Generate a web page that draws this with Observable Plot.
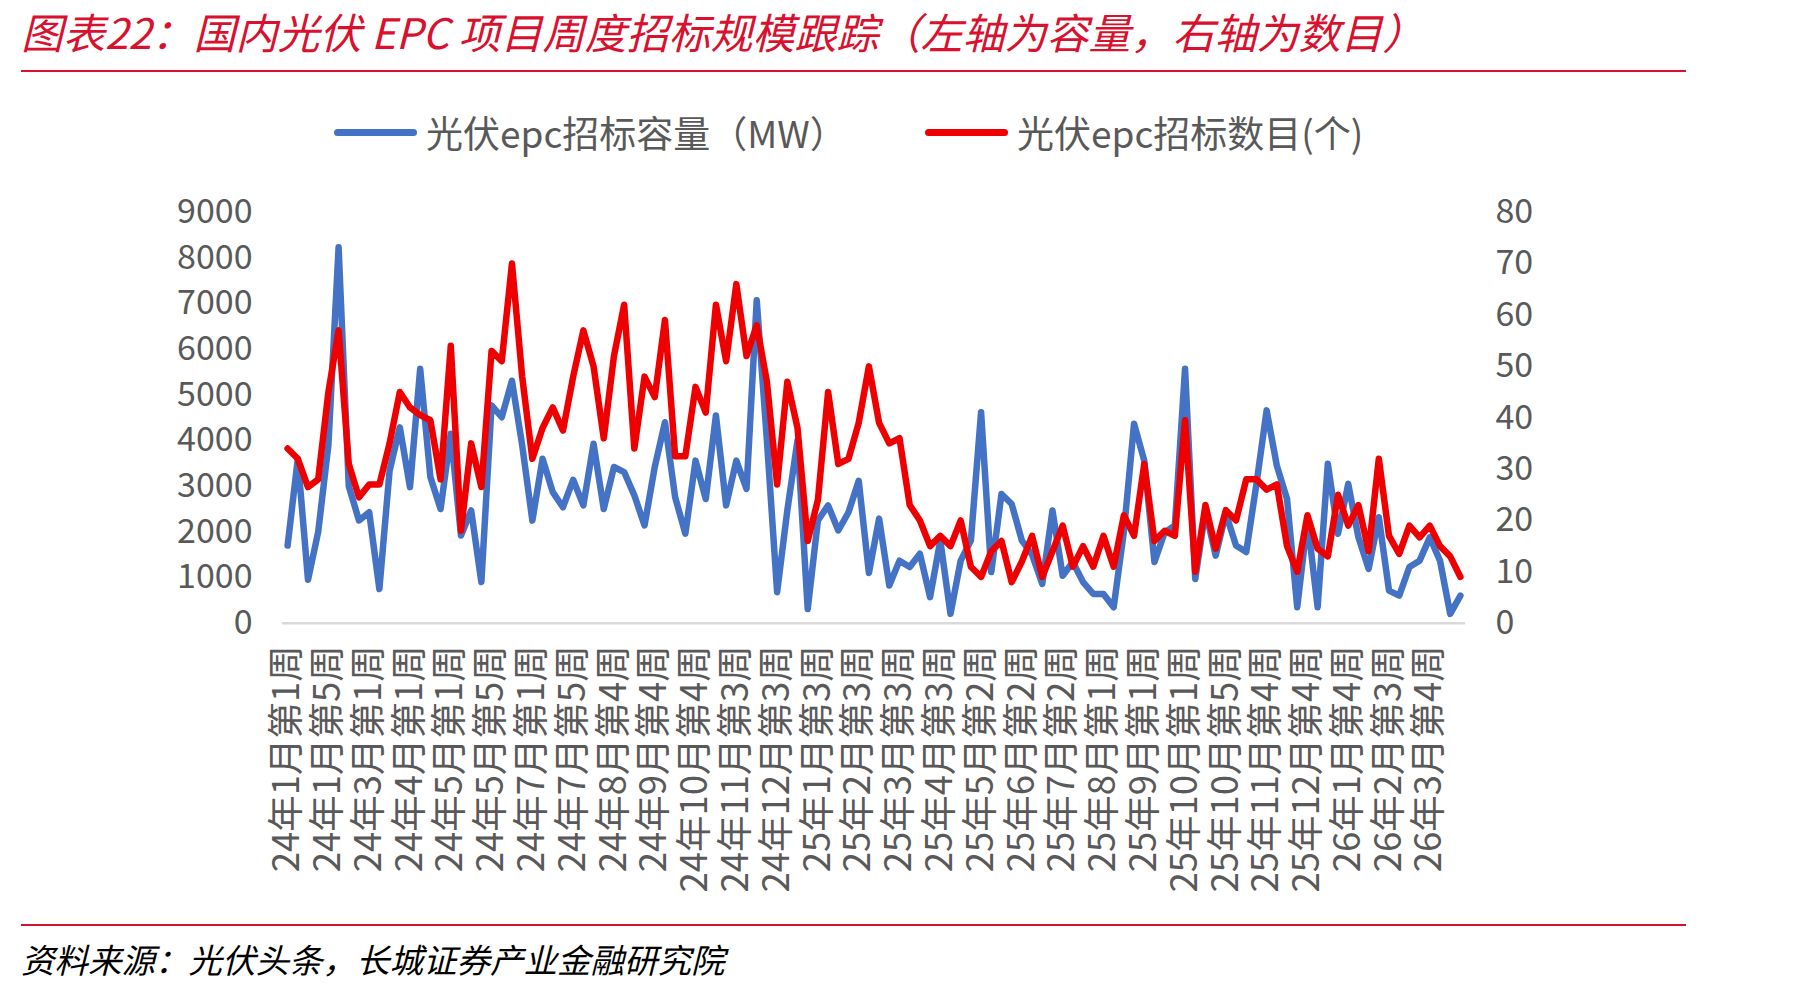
<!DOCTYPE html>
<html><head><meta charset="utf-8">
<script src="https://cdn.jsdelivr.net/npm/d3@7"></script>
<script src="https://cdn.jsdelivr.net/npm/@observablehq/plot@0.6"></script>
<style>
html,body{margin:0;padding:0;background:#fff;}
#page{position:relative;width:1807px;height:991px;overflow:hidden;font-family:"Noto Sans CJK SC","Noto Sans",sans-serif;}
#title{position:absolute;left:21px;top:6px;font-size:42px;font-style:italic;color:#D9102E;white-space:nowrap;line-height:50px;padding-right:8px;}
.rule{position:absolute;left:21px;width:1665px;height:2px;background:#D9102E;}
.leg{position:absolute;top:110px;height:44px;display:flex;align-items:center;font-size:37px;color:#595959;white-space:nowrap;}
.sw{width:83px;height:7px;border-radius:4px;margin-right:9px;}
#chart{position:absolute;left:0;top:160px;}
#footer{position:absolute;left:21px;top:936px;font-size:33.5px;font-style:italic;color:#000;white-space:nowrap;line-height:46px;padding-right:8px;}
</style></head>
<body><div id="page">
<div id="title">图表22：国内光伏 EPC 项目周度招标规模跟踪（左轴为容量，右轴为数目）</div>
<div class="rule" style="top:70px"></div>
<div class="leg" style="left:334px"><div class="sw" style="background:#4472C4"></div><span>光伏epc招标容量（MW）</span></div>
<div class="leg" style="left:925px"><div class="sw" style="background:#EE0000"></div><span>光伏epc招标数目(个)</span></div>
<div id="chart"></div>
<div class="rule" style="top:924px"></div>
<div id="footer">资料来源：光伏头条，长城证券产业金融研究院</div>
</div>
<script>
const weeks = ["24年1月第1周","24年1月第2周","24年1月第3周","24年1月第4周","24年1月第5周","24年2月第1周","24年2月第2周","24年2月第3周",
"24年3月第1周","24年3月第2周","24年3月第3周","24年3月第4周","24年4月第1周","24年4月第2周","24年4月第3周","24年4月第4周",
"24年5月第1周","24年5月第2周","24年5月第3周","24年5月第4周","24年5月第5周","24年6月第2周","24年6月第3周","24年6月第4周",
"24年7月第1周","24年7月第2周","24年7月第3周","24年7月第4周","24年7月第5周","24年8月第1周","24年8月第2周","24年8月第3周",
"24年8月第4周","24年9月第1周","24年9月第2周","24年9月第3周","24年9月第4周","24年10月第1周","24年10月第2周","24年10月第3周",
"24年10月第4周","24年10月第5周","24年11月第1周","24年11月第2周","24年11月第3周","24年11月第4周","24年12月第1周","24年12月第2周",
"24年12月第3周","24年12月第4周","25年1月第1周","25年1月第2周","25年1月第3周","25年1月第4周","25年2月第1周","25年2月第2周",
"25年2月第3周","25年2月第4周","25年3月第1周","25年3月第2周","25年3月第3周","25年3月第4周","25年4月第1周","25年4月第2周",
"25年4月第3周","25年4月第4周","25年4月第5周","25年5月第1周","25年5月第2周","25年5月第3周","25年5月第4周","25年6月第1周",
"25年6月第2周","25年6月第3周","25年6月第4周","25年7月第1周","25年7月第2周","25年7月第3周","25年7月第4周","25年7月第5周",
"25年8月第1周","25年8月第2周","25年8月第3周","25年8月第4周","25年9月第1周","25年9月第2周","25年9月第3周","25年9月第4周",
"25年10月第1周","25年10月第2周","25年10月第3周","25年10月第4周","25年10月第5周","25年11月第1周","25年11月第2周","25年11月第3周",
"25年11月第4周","25年12月第1周","25年12月第2周","25年12月第3周","25年12月第4周","26年1月第1周","26年1月第2周","26年1月第3周",
"26年1月第4周","26年1月第5周","26年2月第1周","26年2月第2周","26年2月第3周","26年3月第1周","26年3月第2周","26年3月第3周",
"26年3月第4周","26年4月第1周","26年4月第2周","26年4月第3周"];

const capacityMW = [1700,3600,950,2000,3900,8230,3000,2250,2430,750,3340,4290,2980,5570,3200,2500,
4150,1920,2470,900,4770,4510,5310,3900,2250,3600,2870,2540,3140,2580,3930,2500,
3420,3310,2800,2140,3420,4400,2760,1960,3560,2720,4550,2580,3560,2940,7070,4000,
680,2470,4000,310,2250,2580,2030,2430,3120,1100,2290,825,1370,1230,1520,570,
1810,205,1370,1810,4620,1120,2830,2610,1810,1500,860,2470,1040,1340,900,640,
640,350,2000,4370,3560,1340,1990,2140,5570,970,2470,1480,2400,1700,1560,3050,
4660,3450,2720,350,2250,350,3490,1960,3050,1880,1190,2320,715,605,1230,1370,
1880,1370,205,605];

const projectCount = [34,32,26.5,28,45,57,31,24.5,27,27,35,45,42,40.5,39.5,28,
54,18,35,26.5,53,51,70,48,32,38,42,37.5,48,57,50,36,
52,62,34,48,44,59,32.5,32.5,46,41,62,51,66,52,58,47,
27,47,38,16,24,45,31,32,39,50,39,35,36,23,20,15,
17,15,20,11,9,14,16,8,12,17,9,14,19,11,15,11,
17,11,21,17,31,16,18,17,39.5,10,23,14.5,22,20,28,28,
26,27,15,10,21,14.5,13,25,19,23,14,32,17,13.5,19,16.7,
19,15,13,9];

const leftTicks = [0,1000,2000,3000,4000,5000,6000,7000,8000,9000];
const rightTicks = [0,10,20,30,40,50,60,70,80];
const ratio = 9000 / 80;

const data = weeks.map((w, i) => ({week: w, mw: capacityMW[i], count: projectCount[i]}));
const xTicks = weeks.filter((d, i) => i % 4 === 0);

const chart = Plot.plot({
  width: 1807,
  height: 760,
  marginLeft: 282,
  marginRight: 342,
  marginTop: 51.7,
  marginBottom: 297.3,
  style: {fontFamily: '"Noto Sans CJK SC","Noto Sans",sans-serif', fontSize: "34px", color: "#595959", background: "transparent", overflow: "visible"},
  x: {type: "point", domain: weeks, padding: 0.5, round: false},
  y: {domain: [0, 9000]},
  marks: [
    Plot.ruleY([0], {stroke: "#D9D9D9", strokeWidth: 2.5}),
    Plot.line(data, {x: "week", y: "mw", stroke: "#4472C4", strokeWidth: 6.5, strokeLinejoin: "round", strokeLinecap: "round"}),
    Plot.line(data, {x: "week", y: d => d.count * ratio, stroke: "#EE0000", strokeWidth: 6.5, strokeLinejoin: "round", strokeLinecap: "round"}),
    Plot.axisY(leftTicks, {anchor: "left", tickSize: 0, tickPadding: 30, tickFormat: d => String(d), label: null}),
    Plot.axisY(rightTicks.map(d => d * ratio), {anchor: "right", tickSize: 0, tickPadding: 30, tickFormat: d => String(Math.round(d / ratio)), label: null}),
    Plot.axisX(xTicks, {anchor: "bottom", tickSize: 0, tickPadding: 22, tickRotate: -90, fontSize: 36.5, label: null})
  ]
});
document.getElementById("chart").appendChild(chart);
</script>
</body></html>
